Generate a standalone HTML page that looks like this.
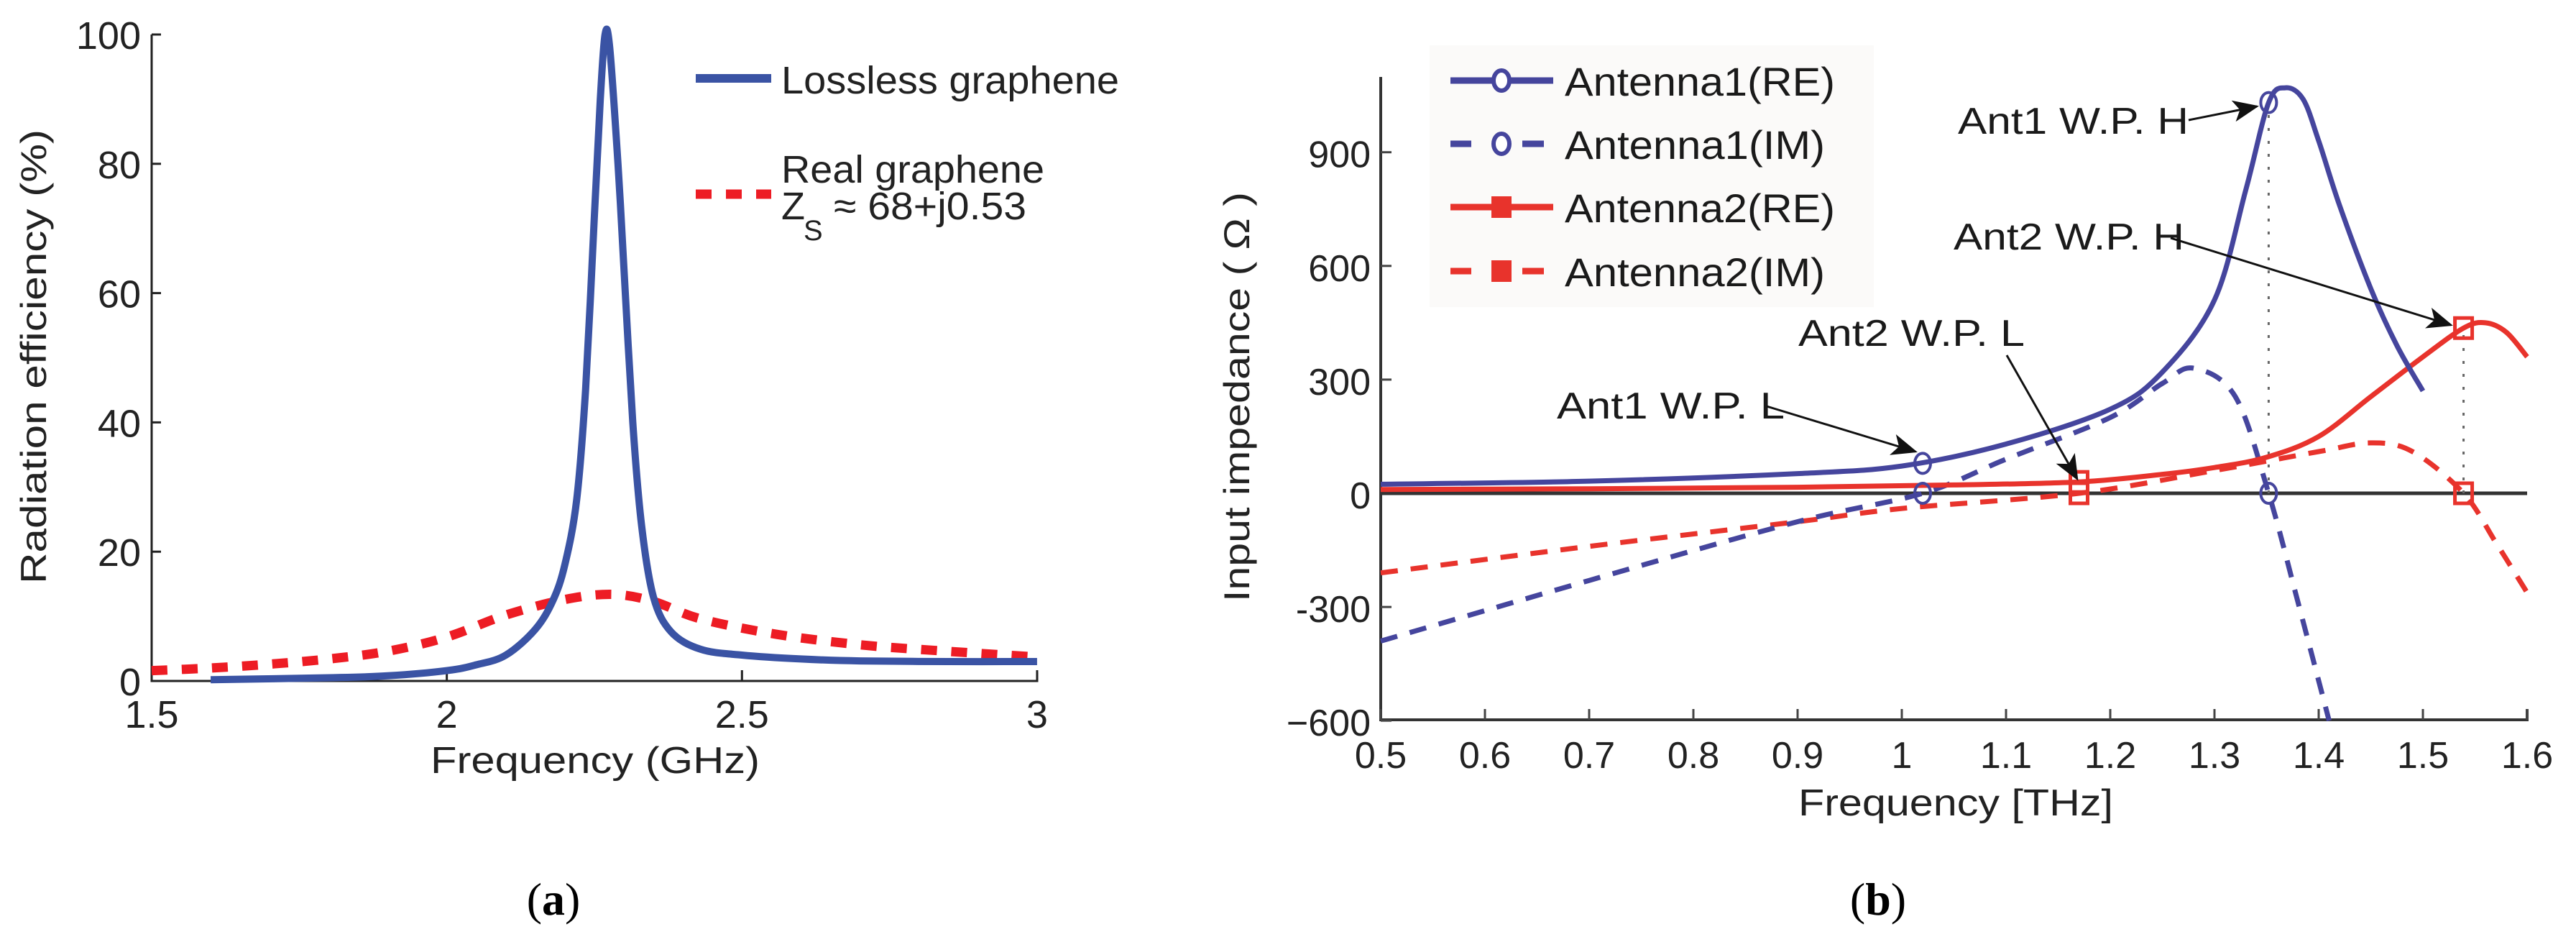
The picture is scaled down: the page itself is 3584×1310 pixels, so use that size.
<!DOCTYPE html>
<html><head><meta charset="utf-8"><style>
html,body{margin:0;padding:0;background:#fff;}
svg{display:block;}
text{font-family:"Liberation Sans",sans-serif;}
</style></head><body>
<svg id="fig" width="3584" height="1310" viewBox="0 0 3584 1310" xmlns="http://www.w3.org/2000/svg">
<rect width="3584" height="1310" fill="#fff"/>
<g id="chartA"></g>
<g id="chartB"></g>
<text x="770" y="1272" text-anchor="middle" style="font-family:'Liberation Serif',serif;font-size:64px;fill:#000">(<tspan font-weight="bold">a</tspan>)</text>
<text x="2613" y="1272" text-anchor="middle" style="font-family:'Liberation Serif',serif;font-size:64px;fill:#000">(<tspan font-weight="bold">b</tspan>)</text>
</svg>
<script>
// ---------- Chart (a) data ----------
const aXTicks = [1.5, 2, 2.5, 3];
const aXTickLabels = ["1.5", "2", "2.5", "3"];
const aYTicks = [0, 20, 40, 60, 80, 100];
const aYTickLabels = ["0", "20", "40", "60", "80", "100"];
const losslessX = [1.6, 1.8, 1.9, 2.0, 2.05, 2.1, 2.15, 2.18, 2.2, 2.22, 2.235, 2.25, 2.26, 2.268, 2.276, 2.29, 2.3, 2.315, 2.33, 2.35, 2.38, 2.43, 2.5, 2.6, 2.7, 2.85, 3.0];
const losslessY = [0.2, 0.5, 0.8, 1.6, 2.5, 4.0, 8.0, 12.5, 18, 28, 45, 72, 90, 100, 98, 80, 64, 40, 24, 13, 7.6, 4.9, 4.0, 3.4, 3.1, 3.0, 3.0];
const realX = [1.5, 1.6, 1.7, 1.8, 1.9, 2.0, 2.1, 2.2, 2.28, 2.35, 2.43, 2.56, 2.7, 2.83, 3.0];
const realY = [1.6, 2.0, 2.6, 3.4, 4.6, 6.8, 10.2, 12.6, 13.4, 12.3, 9.6, 7.2, 5.6, 4.7, 3.7];

// ---------- Chart (b) data ----------
const bXTicks = [0.5, 0.6, 0.7, 0.8, 0.9, 1.0, 1.1, 1.2, 1.3, 1.4, 1.5, 1.6];
const bXTickLabels = ["0.5","0.6","0.7","0.8","0.9","1","1.1","1.2","1.3","1.4","1.5","1.6"];
const bYTicks = [-600, -300, 0, 300, 600, 900];
const bYTickLabels = ["\u2212600", "-300", "0", "300", "600", "900"];
const ant1ReX = [0.5, 0.7, 0.9, 1.0, 1.1, 1.2, 1.25, 1.3, 1.33, 1.352, 1.368, 1.385, 1.4, 1.42, 1.45, 1.475, 1.5];
const ant1ReY = [24, 32, 52, 72, 130, 222, 320, 510, 800, 1031, 1070, 1040, 930, 760, 540, 390, 270];
const ant1ImX = [0.5, 0.7, 0.9, 1.02, 1.1, 1.2, 1.25, 1.28, 1.32, 1.352, 1.38, 1.41];
const ant1ImY = [-390, -230, -75, 0, 90, 200, 290, 330, 255, 0, -286, -600];
const ant2ReX = [0.5, 0.7, 0.9, 1.05, 1.17, 1.25, 1.3, 1.35, 1.4, 1.45, 1.5, 1.539, 1.56, 1.58, 1.6];
const ant2ReY = [10, 12, 16, 22, 30, 50, 68, 95, 150, 255, 360, 436, 450, 425, 360];
const ant2ImX = [0.5, 0.7, 0.9, 1.0, 1.17, 1.3, 1.4, 1.45, 1.49, 1.539, 1.57, 1.6];
const ant2ImY = [-210, -140, -75, -40, 0, 60, 110, 133, 110, 0, -130, -262];
const markerX1 = [1.02, 1.352];
const markerX2 = [1.17, 1.539];
const markRe1 = [79, 1031];
const markIm1 = [0, 0];
const markRe2 = [30, 436];
const markIm2 = [0, 0];

const NS = "http://www.w3.org/2000/svg";
function mk(tag, attrs, parent){
  const e = document.createElementNS(NS, tag);
  for (const k in attrs) e.setAttribute(k, attrs[k]);
  parent.appendChild(e);
  return e;
}
function smoothPath(px){
  let d = "M" + px[0][0].toFixed(1) + "," + px[0][1].toFixed(1);
  for (let i = 0; i < px.length - 1; i++){
    const p0 = px[Math.max(0, i-1)], p1 = px[i], p2 = px[i+1], p3 = px[Math.min(px.length-1, i+2)];
    const c1x = p1[0] + (p2[0]-p0[0])/6, c1y = p1[1] + (p2[1]-p0[1])/6;
    const c2x = p2[0] - (p3[0]-p1[0])/6, c2y = p2[1] - (p3[1]-p1[1])/6;
    d += " C" + c1x.toFixed(1)+","+c1y.toFixed(1)+" "+c2x.toFixed(1)+","+c2y.toFixed(1)+" "+p2[0].toFixed(1)+","+p2[1].toFixed(1);
  }
  return d;
}

// ---------- Chart (a) ----------
(function(){
  const g = document.getElementById("chartA");
  const xA = v => 211 + (v - 1.5) * 821.3;
  const yA = v => 947 - v * 8.99;
  const axis = mk("path", {d: "M211,48 V947 H1443 V935", fill: "none", stroke: "#222", "stroke-width": 3}, g);
  
  
  aYTicks.forEach((v, i) => {
    const t = mk("line", {x1: 211, x2: 224, y1: yA(v), y2: yA(v), stroke: "#222", "stroke-width": 3}, g);
    
    
    const l = mk("text", {x: 196, y: yA(v) + 20, "text-anchor": "end", "font-size": 54, fill: "#222"}, g);
    l.textContent = aYTickLabels[i];
    
    
  });
  aXTicks.forEach((v, i) => {
    const t = mk("line", {x1: xA(v), x2: xA(v), y1: 947, y2: 932, stroke: "#222", "stroke-width": 3}, g);
    
    
    const l = mk("text", {x: xA(v), y: 1012, "text-anchor": "middle", "font-size": 54, fill: "#222"}, g);
    l.textContent = aXTickLabels[i];
    
    
  });
  const xl = mk("text", {x: 828, y: 1075, "text-anchor": "middle", "font-size": 52, fill: "#222", textLength: 458, lengthAdjust: "spacingAndGlyphs"}, g);
  xl.textContent = "Frequency (GHz)";
  
  
  const yl = mk("text", {x: 0, y: 0, "text-anchor": "middle", "font-size": 50, fill: "#222", textLength: 632, lengthAdjust: "spacingAndGlyphs", transform: "translate(64,496) rotate(-90)"}, g);
  yl.textContent = "Radiation efficiency (%)";
  
  

  const rp = mk("path", {d: smoothPath(realX.map((x, i) => [xA(x), yA(realY[i])])), fill: "none", stroke: "#ed1c24", "stroke-width": 13, "stroke-dasharray": "22 20"}, g);
  
  
  const bp = mk("path", {d: smoothPath(losslessX.map((x, i) => [xA(x), yA(losslessY[i])])), fill: "none", stroke: "#3a53a4", "stroke-width": 10, "stroke-linejoin": "round"}, g);
  
  

  const lg = mk("g", {}, g);
  
  
  const l1 = mk("line", {x1: 968, x2: 1073, y1: 109, y2: 109, stroke: "#3a53a4", "stroke-width": 12}, lg);
  
  
  const t1 = mk("text", {x: 1087, y: 130, "font-size": 54, fill: "#222", textLength: 470, lengthAdjust: "spacingAndGlyphs"}, lg);
  t1.textContent = "Lossless graphene";
  
  
  const l2 = mk("line", {x1: 968, x2: 1073, y1: 270, y2: 270, stroke: "#ed1c24", "stroke-width": 13, "stroke-dasharray": "22 20"}, lg);
  
  
  const t2 = mk("text", {x: 1087, y: 254, "font-size": 54, fill: "#222", textLength: 366, lengthAdjust: "spacingAndGlyphs"}, lg);
  t2.textContent = "Real graphene";
  
  
  const t3 = mk("text", {x: 1087, y: 305, "font-size": 54, fill: "#222"}, lg);
  t3.textContent = "Z";
  
  
  const t4 = mk("text", {x: 1118, y: 334, "font-size": 40, fill: "#222"}, lg);
  t4.textContent = "S";
  
  
  const t5 = mk("text", {x: 1160, y: 305, "font-size": 54, fill: "#222", textLength: 268, lengthAdjust: "spacingAndGlyphs"}, lg);
  t5.textContent = "\u2248 68+j0.53";
  
  
})();

// ---------- Chart (b) ----------
(function(){
  const g = document.getElementById("chartB");
  const xB = v => 1921 + (v - 0.5) * 1450;
  const yB = v => 686 - v * 0.527;
  const blue = "#45459d", red = "#e8332c";

  const lgBg = mk("rect", {x: 1989, y: 63, width: 618, height: 364, fill: "#fbfaf9"}, g);
  
  

  const axis = mk("path", {d: "M1921,107 V1001 H3516 V986", fill: "none", stroke: "#333", "stroke-width": 4}, g);
  
  
  bYTicks.forEach((v, i) => {
    const t = mk("line", {x1: 1921, x2: 1936, y1: yB(v), y2: yB(v), stroke: "#444", "stroke-width": 3}, g);
    
    
    const l = mk("text", {x: 1907, y: yB(v) + 21, "text-anchor": "end", "font-size": 52, fill: "#222"}, g);
    l.textContent = bYTickLabels[i];
    
    
  });
  bXTicks.forEach((v, i) => {
    const t = mk("line", {x1: xB(v), x2: xB(v), y1: 1001, y2: 986, stroke: "#444", "stroke-width": 3}, g);
    
    
    const l = mk("text", {x: xB(v), y: 1068, "text-anchor": "middle", "font-size": 52, fill: "#222"}, g);
    l.textContent = bXTickLabels[i];
    
    
  });
  const xl = mk("text", {x: 2721, y: 1134, "text-anchor": "middle", "font-size": 52, fill: "#222", textLength: 438, lengthAdjust: "spacingAndGlyphs"}, g);
  xl.textContent = "Frequency [THz]";
  
  
  const yl = mk("text", {x: 0, y: 0, "text-anchor": "middle", "font-size": 50, fill: "#222", textLength: 570, lengthAdjust: "spacingAndGlyphs", transform: "translate(1738,552) rotate(-90)"}, g);
  yl.textContent = "Input impedance ( \u03a9 )";
  
  

  const zl = mk("line", {x1: 1921, x2: 3516, y1: yB(0), y2: yB(0), stroke: "#333", "stroke-width": 5}, g);
  
  

  [[markerX1[1], markRe1[1]], [markerX2[1], markRe2[1]]].forEach(p => {
    const d = mk("line", {x1: xB(p[0]), x2: xB(p[0]), y1: yB(0), y2: yB(p[1]), stroke: "#666", "stroke-width": 3, "stroke-dasharray": "4 14"}, g);
    
    
  });

  const series = [
    [ant2ImX, ant2ImY, red, "24 18", "antenna2-im-line"],
    [ant1ImX, ant1ImY, blue, "24 18", "antenna1-im-line"],
    [ant2ReX, ant2ReY, red, "", "antenna2-re-line"],
    [ant1ReX, ant1ReY, blue, "", "antenna1-re-line"]
  ];
  series.forEach(s => {
    const p = mk("path", {d: smoothPath(s[0].map((x, i) => [xB(x), yB(s[1][i])])), fill: "none", stroke: s[2], "stroke-width": 7, "stroke-dasharray": s[3] || "none"}, g);
    
    
  });

  markerX1.forEach((x, i) => {
    [markRe1[i], markIm1[i]].forEach(v => {
      const c = mk("ellipse", {cx: xB(x), cy: yB(v), rx: 11, ry: 14, fill: "none", stroke: blue, "stroke-width": 4}, g);
      
      
    });
  });
  markerX2.forEach((x, i) => {
    [markRe2[i], markIm2[i]].forEach(v => {
      const r = mk("rect", {x: xB(x) - 12, y: yB(v) - 14, width: 24, height: 28, fill: "none", stroke: red, "stroke-width": 5}, g);
      
      
    });
  });

  const defs = mk("defs", {}, g);
  const m = mk("marker", {id: "arr", markerWidth: 12, markerHeight: 10, refX: 11, refY: 5, orient: "auto", markerUnits: "strokeWidth"}, defs);
  mk("path", {d: "M0,0 L12,5 L0,10 L3,5 Z", fill: "#111"}, m);
  const notes = [
    ["Ant1 W.P. H", 2724, 186, 321, 3045, 167, 3140, 148],
    ["Ant2 W.P. H", 2718, 347, 321, 3020, 331, 3410, 452],
    ["Ant2 W.P. L", 2502, 481, 315, 2792, 494, 2890, 666],
    ["Ant1 W.P. L", 2166, 582, 317, 2458, 565, 2665, 628]
  ];
  notes.forEach(n => {
    const t = mk("text", {x: n[1], y: n[2], "font-size": 52, fill: "#1a1a1a", textLength: n[3], lengthAdjust: "spacingAndGlyphs"}, g);
    t.textContent = n[0];
    
    
    const a = mk("line", {x1: n[4], y1: n[5], x2: n[6], y2: n[7], stroke: "#111", "stroke-width": 3, "marker-end": "url(#arr)"}, g);
    
    
  });

  const leg = [
    ["Antenna1(RE)", blue, "", "c", 112],
    ["Antenna1(IM)", blue, "20 30", "c", 200],
    ["Antenna2(RE)", red, "", "s", 288],
    ["Antenna2(IM)", red, "20 30", "s", 377]
  ];
  leg.forEach(e => {
    const gg = mk("g", {}, g);
    
    
    const ln = e[2] ? mk("path", {d: `M2018,${e[4]} H2047 M2118,${e[4]} H2148`, stroke: e[1], "stroke-width": 9}, gg)
                    : mk("line", {x1: 2018, x2: 2161, y1: e[4], y2: e[4], stroke: e[1], "stroke-width": 9}, gg);
    
    
    const mkr = e[3] === "c" ? mk("ellipse", {cx: 2089, cy: e[4], rx: 11, ry: 14, fill: "#fff", stroke: e[1], "stroke-width": 6}, gg)
                             : mk("rect", {x: 2075, y: e[4] - 15, width: 28, height: 30, fill: e[1]}, gg);
    
    
    const tx = mk("text", {x: 2177, y: e[4] + 21, "font-size": 56, fill: "#1a1a1a", textLength: e[0].indexOf("IM") > 0 ? 362 : 376, lengthAdjust: "spacingAndGlyphs"}, gg);
    tx.textContent = e[0];
    
    
  });
})();
</script>
</body></html>
